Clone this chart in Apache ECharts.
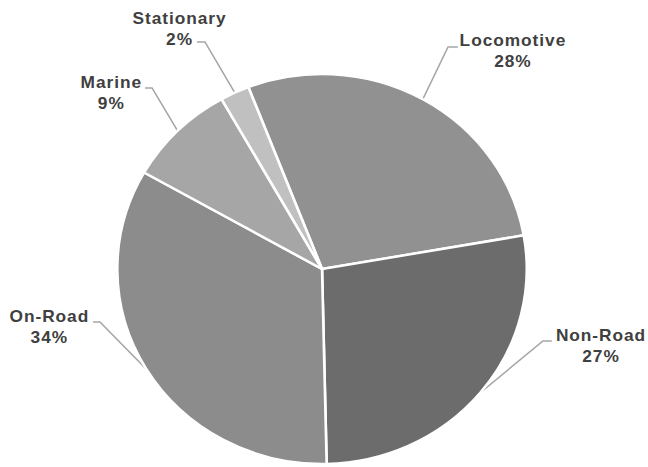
<!DOCTYPE html>
<html>
<head>
<meta charset="utf-8">
<script src="https://cdn.jsdelivr.net/npm/echarts@6/dist/echarts.min.js"></script>
<style>
html,body{margin:0;padding:0;background:#fff;overflow:hidden;}
#wrap{width:648px;height:467px;overflow:hidden;}
#chart{width:617px;height:467px;transform:scaleX(1.05);transform-origin:0 0;}
#chart text{letter-spacing:0.9px;}
</style>
</head>
<body>
<div id="wrap"><div id="chart"></div></div>
<script>
// Data
var categories = ['Locomotive', 'Non-Road', 'On-Road', 'Marine', 'Stationary'];
var values = [28.1, 27.4, 33.6, 8.6, 2.3];

// Styles / layout (chart-local coordinates)
var colors = ['#919191', '#6c6c6c', '#8c8c8c', '#a6a6a6', '#c0c0c0'];
var labelPos = {
  'Locomotive': {x: 488.5, y: 51, elbow: [426.7, 47], end: [436.0, 47]},
  'Non-Road':   {x: 572.4, y: 346.4, elbow: [517.1, 341], end: [525.5, 341]},
  'On-Road':    {x: 47.0, y: 327.5, elbow: [95.2, 322], end: [88.6, 322]},
  'Marine':     {x: 106.0, y: 93, elbow: [144.8, 88], end: [138.1, 88]},
  'Stationary': {x: 171.0, y: 29, elbow: [195.2, 42], end: [187.6, 42]}
};

var chart = echarts.init(document.getElementById('chart'), null, {renderer: 'svg'});
var data = categories.map(function (c, i) {
  return {name: c, value: values[i], itemStyle: {color: colors[i]}};
});
chart.setOption({
  animation: false,
  series: [{
    type: 'pie',
    center: [306.7, 269],
    radius: [0, 195],
    startAngle: 111.1,
    clockwise: true,
    data: data,
    itemStyle: {borderColor: '#ffffff', borderWidth: 2.5},
    label: {
      show: true,
      position: 'outside',
      fontFamily: 'Liberation Sans',
      fontWeight: 'bold',
      fontSize: 16.5,
      lineHeight: 21,
      color: '#404040',
      align: 'center',
      formatter: function (p) { return p.name + '\n' + Math.round(p.percent) + '%'; }
    },
    labelLine: {
      show: true,
      length: 10,
      length2: 10,
      lineStyle: {color: '#a6a6a6', width: 1.5}
    },
    labelLayout: function (params) {
      var name = categories[params.dataIndex];
      var lp = labelPos[name];
      var anchor = params.labelLinePoints ? params.labelLinePoints[0] : lp.elbow;
      return {
        x: lp.x,
        y: lp.y,
        align: 'center',
        verticalAlign: 'middle',
        labelLinePoints: [anchor, lp.elbow, lp.end]
      };
    }
  }]
});
</script>
</body>
</html>
